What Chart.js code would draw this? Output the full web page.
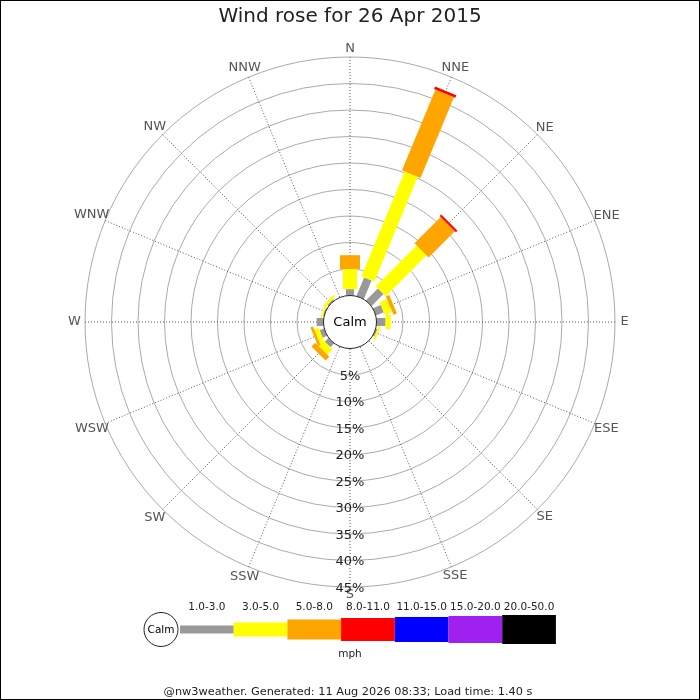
<!DOCTYPE html>
<html>
<head>
<meta charset="utf-8">
<title>Wind rose for 26 Apr 2015</title>
<script src="https://cdn.jsdelivr.net/npm/chart.js@4.4.1/dist/chart.umd.min.js"></script>
<style>
    html, body { margin: 0; padding: 0; background: #fff; }
    #wrap { width: 700px; height: 700px; }
</style>
</head>
<body>
<div id="wrap"><canvas id="roseChart" width="700" height="700"></canvas></div>
<script>
// ===================================
// Wind rose data (% of time per direction and speed band)
// ===================================

const directions = ['N', 'NNE', 'NE', 'ENE', 'E', 'ESE', 'SE', 'SSE',
                    'S', 'SSW', 'SW', 'WSW', 'W', 'WNW', 'NW', 'NNW'];
const speedBands = ['1.0-3.0', '3.0-5.0', '5.0-8.0', '8.0-11.0', '11.0-15.0', '15.0-20.0', '20.0-50.0'];

const speed1to3   = [1.2, 3.8, 3.2, 1.6, 1.7, 0.3, 0, 0, 0, 0, 1.0, 0.9, 1.3, 0.2, 0.3, 0];
const speed3to5   = [3.8, 21.4, 10.9, 1.5, 1.0, 0.4, 0, 0, 0, 0, 1.4, 0.9, 0, 0.3, 0.5, 0];
const speed5to8   = [2.6, 16.5, 7.0, 0.7, 0, 0, 0, 0, 0, 0, 1.0, 0.5, 0, 0, 0, 0];
const speed8to11  = [0, 0.5, 0.4, 0, 0, 0, 0, 0, 0, 0, 0, 0, 0, 0, 0, 0];
const speed11to15 = [0, 0, 0, 0, 0, 0, 0, 0, 0, 0, 0, 0, 0, 0, 0, 0];
const speed15to20 = [0, 0, 0, 0, 0, 0, 0, 0, 0, 0, 0, 0, 0, 0, 0, 0];
const speed20to50 = [0, 0, 0, 0, 0, 0, 0, 0, 0, 0, 0, 0, 0, 0, 0, 0];

const ringTicks = [5, 10, 15, 20, 25, 30, 35, 40, 45];

const bandValues = [speed1to3, speed3to5, speed5to8, speed8to11, speed11to15, speed15to20, speed20to50];

// styles
const bandColors = ['#999999', '#ffff00', '#ffa500', '#ff0000', '#0000ff', '#a020f0', '#000000'];
const bandWidths = [8, 14, 20, 23, 25, 27, 29];
const FONT = "'DejaVu Sans', sans-serif";

// Bars, calm circle, labels, legend
const roseBars = {
    id: 'roseBars',
    beforeDatasetsDraw(chart) {
        const scale = chart.scales.r;
        const ctx = chart.ctx;

        directions.forEach((dir, i) => {
            const angle = scale.getIndexAngle(i) - Math.PI / 2;
            let base = 0;
            bandValues.forEach((values, b) => {
                const v = values[i];
                if (!v) return;
                const d0 = scale.getDistanceFromCenterForValue(base);
                const d1 = scale.getDistanceFromCenterForValue(base + v);
                base += v;
                ctx.save();
                ctx.translate(scale.xCenter, scale.yCenter);
                ctx.rotate(angle);
                ctx.fillStyle = bandColors[b];
                ctx.fillRect(d0, -bandWidths[b] / 2, d1 - d0, bandWidths[b]);
                ctx.restore();
            });
        });

        // Calm circle
        const calmR = scale.getDistanceFromCenterForValue(0);
        ctx.save();
        ctx.beginPath();
        ctx.arc(scale.xCenter, scale.yCenter, calmR, 0, Math.PI * 2);
        ctx.fillStyle = '#fff';
        ctx.fill();
        ctx.lineWidth = 1;
        ctx.strokeStyle = '#222';
        ctx.stroke();
        ctx.fillStyle = '#000';
        ctx.font = '13px ' + FONT;
        ctx.textAlign = 'center';
        ctx.textBaseline = 'middle';
        ctx.fillText('Calm', scale.xCenter, scale.yCenter + 1);
        ctx.restore();
    },
    afterDraw(chart) {
        const scale = chart.scales.r;
        const ctx = chart.ctx;
        ctx.save();
        ctx.textAlign = 'center';
        ctx.textBaseline = 'middle';

        // Title
        ctx.fillStyle = '#222';
        ctx.font = '20px ' + FONT;
        ctx.fillText('Wind rose for 26 Apr 2015', 350, 17);

        // Compass labels
        ctx.font = '13px ' + FONT;
        ctx.fillStyle = '#555';
        const outer = scale.getDistanceFromCenterForValue(scale.max);
        directions.forEach((dir, i) => {
            const a = scale.getIndexAngle(i);
            const w = ctx.measureText(dir).width;
            const pos = scale.getPointPosition(i, outer + 8 + 0.4 * Math.abs(Math.sin(a)) * w / 2);
            ctx.fillText(dir, pos.x, pos.y);
        });

        // Ring labels down the S axis
        ctx.fillStyle = '#222';
        ringTicks.forEach(t => {
            const d = scale.getDistanceFromCenterForValue(t);
            ctx.fillText(t + '%', scale.xCenter, scale.yCenter + d + 1.5);
        });

        // Legend
        const legY = 629.5;
        const legX0 = 180;
        const legStep = 53.7;
        ctx.beginPath();
        ctx.arc(161, legY, 17, 0, Math.PI * 2);
        ctx.fillStyle = '#fff';
        ctx.fill();
        ctx.strokeStyle = '#222';
        ctx.lineWidth = 1;
        ctx.stroke();
        ctx.fillStyle = '#000';
        ctx.font = '10.5px ' + FONT;
        ctx.fillText('Calm', 161, legY + 1);

        speedBands.forEach((label, b) => {
            const x = legX0 + b * legStep;
            ctx.fillStyle = bandColors[b];
            ctx.fillRect(x, legY - bandWidths[b] / 2, legStep, bandWidths[b]);
            ctx.fillStyle = '#222';
            ctx.fillText(label, x + legStep / 2, 607);
        });
        ctx.fillText('mph', 350, 654);

        // Footer
        ctx.font = '11.3px ' + FONT;
        ctx.fillText('@nw3weather. Generated: 11 Aug 2026 08:33; Load time: 1.40 s', 348, 692);

        // Frame
        ctx.strokeStyle = '#000';
        ctx.strokeRect(0.5, 0.5, 699, 699);
        ctx.restore();
    }
};

document.addEventListener('DOMContentLoaded', function() {
    const ctx = document.getElementById('roseChart');
    new Chart(ctx, {
        type: 'radar',
        data: {
            labels: directions,
            datasets: bandValues.map((values, b) => ({
                label: speedBands[b],
                data: values,
                borderWidth: 0,
                pointRadius: 0,
                backgroundColor: 'rgba(0,0,0,0)',
                fill: false
            }))
        },
        options: {
            responsive: false,
            animation: false,
            events: [],
            layout: {
                padding: { left: 85, right: 85, top: 57, bottom: 113 }
            },
            plugins: {
                legend: { display: false },
                title: { display: false },
                tooltip: { enabled: false }
            },
            scales: {
                r: {
                    min: -5,
                    max: 45,
                    ticks: { display: false, stepSize: 5 },
                    pointLabels: { display: false },
                    grid: {
                        circular: true,
                        color: c => (c.tick && c.tick.value > 0) ? '#aaaaaa' : 'rgba(0,0,0,0)',
                        lineWidth: 1
                    },
                    angleLines: {
                        color: '#555',
                        lineWidth: 1,
                        borderDash: [1, 2]
                    }
                }
            }
        },
        plugins: [roseBars]
    });
});
</script>
</body>
</html>
